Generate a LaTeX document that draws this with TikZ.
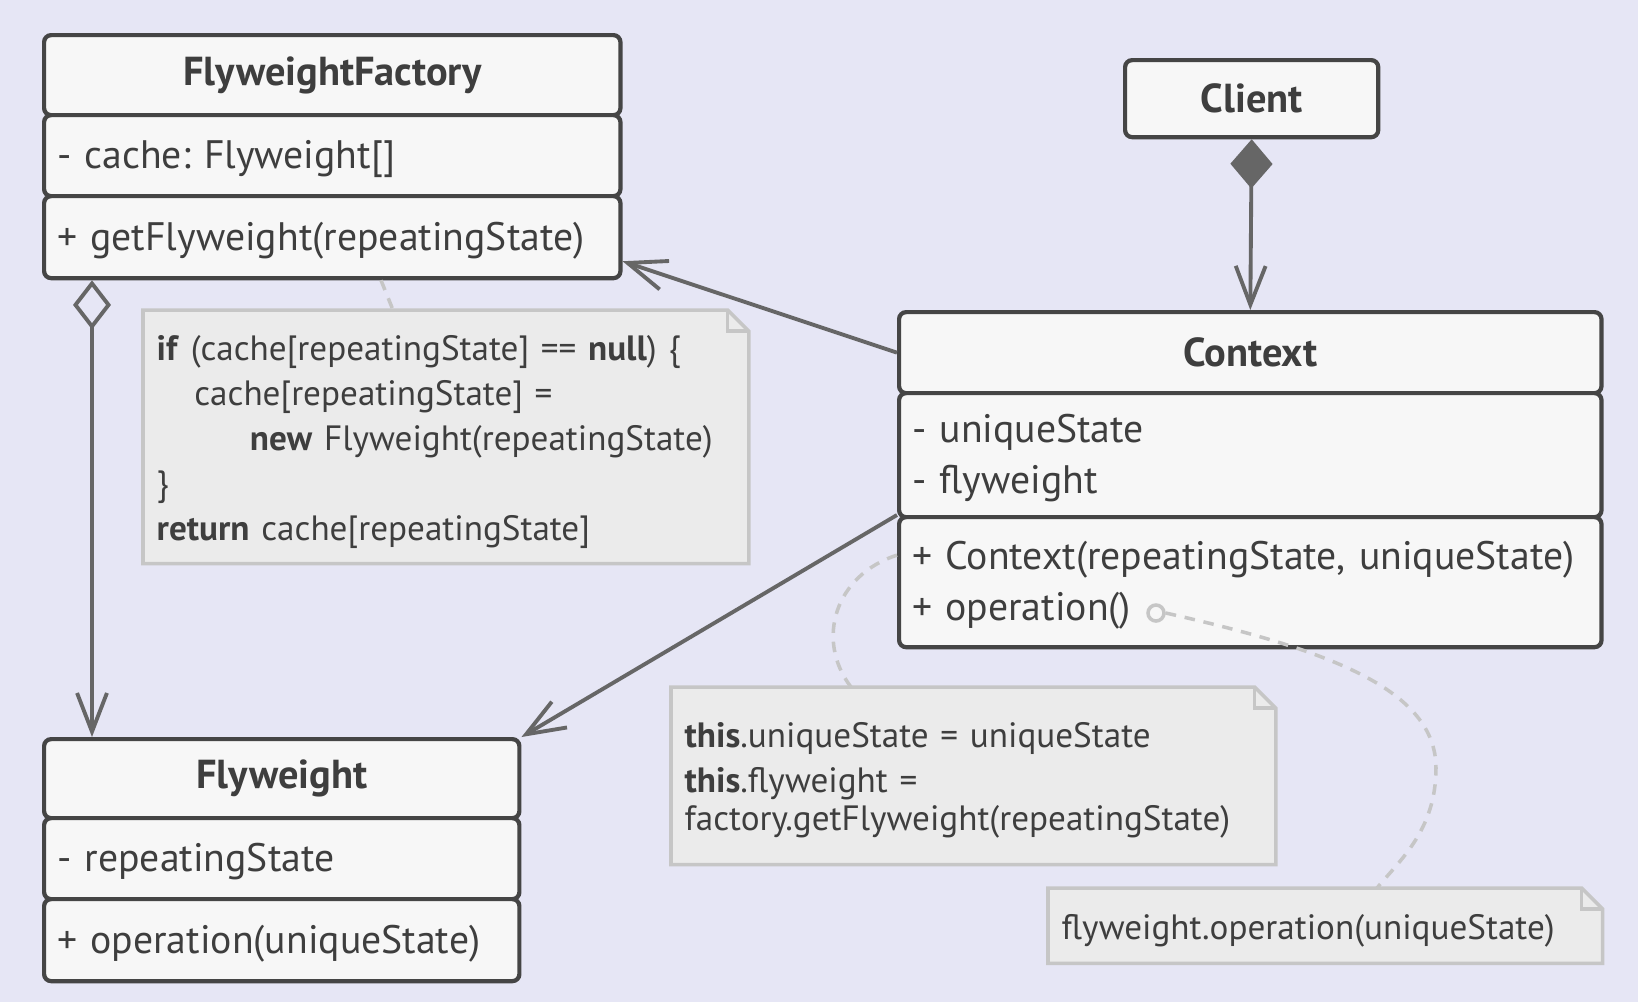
\documentclass[tikz,border=0pt]{standalone}
\usepackage{fontspec}
\setmainfont{PT Sans}
\frenchspacing
\usetikzlibrary{arrows.meta,calc,backgrounds}

\definecolor{bgcol}{HTML}{E6E6F5}
\definecolor{boxfill}{HTML}{F7F7F7}
\definecolor{boxline}{HTML}{454545}
\definecolor{ink}{HTML}{3E3E3E}
\definecolor{linegrey}{HTML}{666666}
\definecolor{notefill}{HTML}{EBEBEB}
\definecolor{noteline}{HTML}{C6C6C6}

\tikzset{
  cls/.style={draw=boxline, fill=boxfill, text=ink, line width=1.2pt, rounded corners=2pt,
    anchor=north west, inner xsep=0.13cm, inner ysep=0pt},
  clstitle/.style={cls, align=center, font=\bfseries\fontsize{11.5}{14}\selectfont},
  clsbody/.style={cls, align=left, text height=9.9pt, font=\fontsize{11.3}{14.5}\selectfont},
  note/.style={anchor=north west, text=ink, inner xsep=0.13cm, inner ysep=0pt, align=left,
    text height=10pt, font=\fontsize{10}{10.8}\selectfont},
  link/.style={draw=linegrey, line width=1.1pt},
  hint/.style={draw=noteline, line width=1pt, dash pattern=on 3pt off 2.5pt},
  barb/.tip={Straight Barb[length=11pt, width=8.5pt]},
}

% note outline with folded corner
\newcommand{\foldnote}[1]{%
  \draw[noteline, fill=notefill, line width=1pt] (#1.south west) -- (#1.north west)
    -- ([xshift=-6pt]#1.north east) -- ([yshift=-6pt]#1.north east) -- (#1.south east) -- cycle;
  \draw[noteline, line width=1pt] ([xshift=-6pt]#1.north east) |- ([yshift=-6pt]#1.north east);
}

\begin{document}
\begin{tikzpicture}[x=0.01cm, y=-0.01cm]
  \useasboundingbox (0,0) rectangle (1638,1002);
  \begin{scope}[on background layer]
    \fill[bgcol] (0,0) rectangle (1638,1002);
  \end{scope}

  % FlyweightFactory
  \node[clstitle, text width=5.5cm, minimum height=0.8cm] (facT) at (42,33) {FlyweightFactory};
  \node[clsbody, text width=5.5cm, minimum height=0.81cm] (facA) at (42,113) {- cache: Flyweight[]};
  \node[clsbody, text width=5.5cm, minimum height=0.82cm] (facM) at (42,194) {+ getFlyweight(repeatingState)};

  % Client
  \node[clstitle, text width=2.27cm, minimum height=0.77cm] (client) at (1123,58) {Client};

  % Context
  \node[clstitle, text width=6.76cm, minimum height=0.81cm] (ctxT) at (897,310) {Context};
  \node[clsbody, text width=6.76cm, minimum height=1.24cm] (ctxA) at (897,391) {- uniqueState\\- flyweight};
  \node[clsbody, text width=6.76cm, minimum height=1.3cm] (ctxM) at (897,515)
    {+ Context(repeatingState, uniqueState)\\+ operation()};
  \node[circle, draw=noteline, line width=1pt, fill=boxfill, minimum size=0.16cm, inner sep=0pt] (opdot) at (1156,613) {};

  % Flyweight
  \node[clstitle, text width=4.49cm, minimum height=0.79cm] (flyT) at (42,737) {Flyweight};
  \node[clsbody, text width=4.49cm, minimum height=0.81cm] (flyA) at (42,816) {- repeatingState};
  \node[clsbody, text width=4.49cm, minimum height=0.82cm] (flyM) at (42,897) {+ operation(uniqueState)};

  % notes
  \node[note, text width=5.78cm, minimum height=2.52cm] (code) at (143,310)
    {\textbf{if} (cache[repeatingState] == \textbf{null}) \{\\[2pt]
     \hspace*{10.7pt}cache[repeatingState] =\\[2pt]
     \hspace*{26.5pt}\textbf{new} Flyweight(repeatingState)\\[2pt]
     \}\\[2pt]
     \textbf{return} cache[repeatingState]};
  \node[note, text width=5.77cm, minimum height=1.76cm] (ctor) at (671,687)
    {\textbf{this}.uniqueState = uniqueState\\[2pt]
     \textbf{this}.flyweight =\\
     factory.getFlyweight(repeatingState)};
  \node[note, text width=5.27cm, minimum height=0.74cm] (call) at (1048,888)
    {flyweight.operation(uniqueState)};
  \begin{scope}[on background layer]
    \foldnote{code}
    \foldnote{ctor}
    \foldnote{call}
  \end{scope}

  % relations
  \draw[link, -barb] (ctxT.west) -- ([yshift=0.19cm]facM.south east);
  \draw[link, -barb] (ctxM.north west) -- (flyT.north east);
  \draw[link, {Diamond[open, length=14pt, width=10.8pt]}-barb]
    ($(facM.south west)+(50,0)$) -- ($(flyT.north west)+(50,0)$);
  \draw[link, {Diamond[length=14pt, width=12pt]}-barb] (client.south) -- (ctxT.north);

  % note links
  \draw[hint] ($(facM.south west)+(339,0)$) -- ($(code.north west)+(250,0)$);
  \draw[hint] ([yshift=0.27cm]ctxM.west) .. controls (835,575) and (815,640) .. ($(ctor.north west)+(180,0)$);
  \draw[hint] (opdot.east) .. controls (1330,650) and (1436,690) .. (1436,768)
    .. controls (1436,830) and (1400,860) .. ($(call.north west)+(329,0)$);
\end{tikzpicture}
\end{document}
